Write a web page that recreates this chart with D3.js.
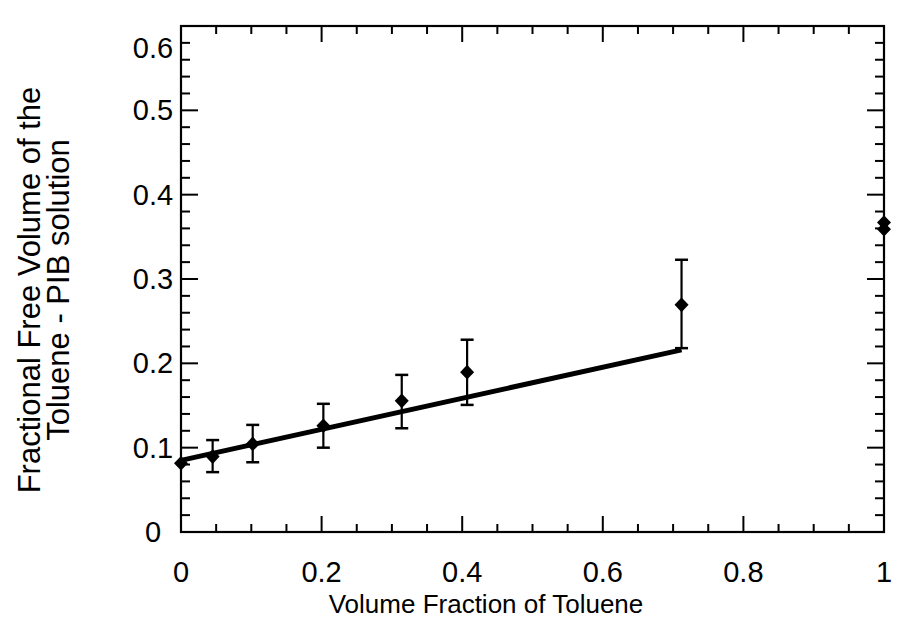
<script src="https://cdn.jsdelivr.net/npm/d3@7"></script>
<style>
  body { margin: 0; background: #fff; }
  text { font-family: "Liberation Sans", Arial, Helvetica, sans-serif; fill: #000; }
</style>
<div id="chart"></div>
<script>
// measured points (volume fraction, free volume)
var pointX = [0, 0.045, 0.102, 0.2025, 0.314, 0.407, 0.712, 1.0, 1.0];
var pointY = [0.0815, 0.0894, 0.1044, 0.126, 0.1555, 0.1895, 0.2694, 0.367, 0.359];
// error bars (only where drawn)
var errX  = [0.045, 0.102, 0.2025, 0.314, 0.407, 0.712];
var errLo = [0.071, 0.0827, 0.100, 0.123, 0.1507, 0.218];
var errHi = [0.109, 0.127, 0.152, 0.1863, 0.228, 0.3228];
// fitted line
var fitX = [0, 0.712];
var fitY = [0.085, 0.216];

var xTicks = [0, 0.2, 0.4, 0.6, 0.8, 1];
var xTickLabels = ["0", "0.2", "0.4", "0.6", "0.8", "1"];
var yTicks = [0, 0.1, 0.2, 0.3, 0.4, 0.5, 0.6];
var yTickLabels = ["0", "0.1", "0.2", "0.3", "0.4", "0.5", "0.6"];

var margin = {top: 26, right: 15, bottom: 103, left: 181},
    W = 899, H = 635,
    width = W - margin.left - margin.right,
    height = H - margin.top - margin.bottom;

var svg = d3.select("#chart").append("svg")
    .attr("width", W).attr("height", H);
var g = svg.append("g")
    .attr("transform", "translate(" + margin.left + "," + margin.top + ")");

var x = d3.scaleLinear().domain([0, 1]).range([0, width]);
var y = d3.scaleLinear().domain([0, 0.6]).range([height, 0]);

// frame
g.append("rect").attr("x", 0).attr("y", 0).attr("width", width).attr("height", height)
    .attr("fill", "none").attr("stroke", "#000").attr("stroke-width", 2.2);

var xMinor = d3.range(0, 1.0001, 0.05);
var yMinor = d3.range(0, 0.6001, 0.02);
function isMajor(v, step) { return Math.abs(v / step - Math.round(v / step)) < 1e-6; }

// ticks pointing inward on all four sides
xMinor.forEach(function(v) {
    var len = isMajor(v, 0.2) ? 16 : 8;
    g.append("line").attr("x1", x(v)).attr("x2", x(v)).attr("y1", height).attr("y2", height - len)
        .attr("stroke", "#000").attr("stroke-width", 2);
    g.append("line").attr("x1", x(v)).attr("x2", x(v)).attr("y1", 0).attr("y2", len)
        .attr("stroke", "#000").attr("stroke-width", 2);
});
yMinor.forEach(function(v) {
    var len = isMajor(v, 0.1) ? 17 : 9;
    g.append("line").attr("y1", y(v)).attr("y2", y(v)).attr("x1", 0).attr("x2", len)
        .attr("stroke", "#000").attr("stroke-width", 2);
    g.append("line").attr("y1", y(v)).attr("y2", y(v)).attr("x1", width).attr("x2", width - len)
        .attr("stroke", "#000").attr("stroke-width", 2);
});

// tick labels
g.selectAll(".xl").data(xTicks).enter().append("text")
    .attr("x", function(d) { return x(d); })
    .attr("y", height + 50)
    .attr("text-anchor", "middle")
    .style("font-size", "29px")
    .text(function(d, i) { return xTickLabels[i]; });

// top label is pushed down so it stays inside the page
g.selectAll(".yl").data(yTicks).enter().append("text")
    .attr("x", -28)
    .attr("y", function(d) { return Math.max(y(d) + 10, 32); })
    .attr("text-anchor", "middle")
    .style("font-size", "29px")
    .text(function(d, i) { return yTickLabels[i]; });

// axis titles
svg.append("text")
    .attr("x", 486).attr("y", 613)
    .attr("text-anchor", "middle")
    .style("font-size", "26px")
    .text("Volume Fraction of Toluene");

var yt = svg.append("text")
    .attr("transform", "translate(0,290) rotate(-90)")
    .attr("text-anchor", "middle")
    .style("font-size", "31px");
yt.append("tspan").attr("x", 0).attr("y", 40).text("Fractional Free Volume of the");
yt.append("tspan").attr("x", 0).attr("y", 69).text("Toluene - PIB solution");

// fitted line
var line = d3.line().x(function(d) { return x(d[0]); }).y(function(d) { return y(d[1]); });
g.append("path")
    .attr("d", line(d3.zip(fitX, fitY)))
    .attr("fill", "none").attr("stroke", "#000").attr("stroke-width", 5);

// error bars
errX.forEach(function(v, i) {
    g.append("line").attr("x1", x(v)).attr("x2", x(v)).attr("y1", y(errLo[i])).attr("y2", y(errHi[i]))
        .attr("stroke", "#000").attr("stroke-width", 2.2);
    [errLo[i], errHi[i]].forEach(function(e) {
        g.append("line").attr("x1", x(v) - 6.5).attr("x2", x(v) + 6.5).attr("y1", y(e)).attr("y2", y(e))
            .attr("stroke", "#000").attr("stroke-width", 2.5);
    });
});

// diamonds: a bit wider than d3's default diamond
var wideDiamond = {
    draw: function(ctx, size) {
        var h = Math.sqrt(size) / 2 * 1.05, w = Math.sqrt(size) / 2;
        ctx.moveTo(0, -h); ctx.lineTo(w, 0); ctx.lineTo(0, h); ctx.lineTo(-w, 0); ctx.closePath();
    }
};
var diamond = d3.symbol().type(wideDiamond).size(196);
g.selectAll(".pt").data(d3.zip(pointX, pointY)).enter().append("path")
    .attr("d", diamond)
    .attr("transform", function(d) { return "translate(" + x(d[0]) + "," + y(d[1]) + ")"; })
    .attr("fill", "#000");
</script>
